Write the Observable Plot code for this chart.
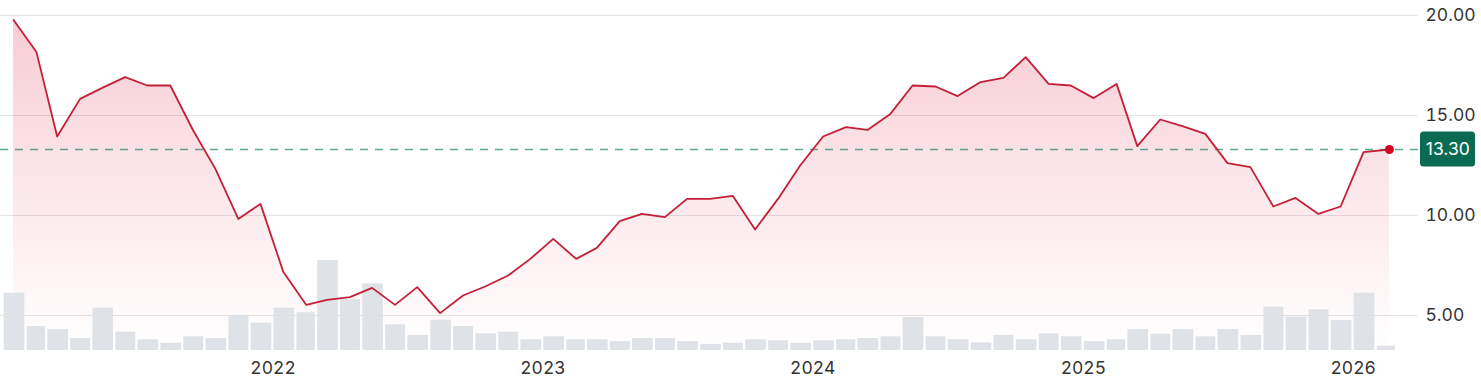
<!DOCTYPE html>
<html>
<head>
<meta charset="utf-8">
<script src="https://cdn.jsdelivr.net/npm/d3@7"></script>
<script src="https://cdn.jsdelivr.net/npm/@observablehq/plot@0.6"></script>
<style>
  html, body { margin: 0; padding: 0; background: #fff; }
  #chart svg { display: block; }
</style>
</head>
<body>
<div id="chart"></div>
<script>
// Monthly closing prices, Jan 2021 .. Feb 2026
const startMonth = "2021-01";
const prices = [
  19.78, 18.17, 13.95, 15.83, 16.38, 16.92, 16.5, 16.5, 14.25, 12.33,
  9.83, 10.58, 7.17, 5.53, 5.78, 5.92, 6.38, 5.53, 6.42, 5.12,
  6.0, 6.45, 7.0, 7.83, 8.83, 7.83, 8.38, 9.72, 10.08, 9.92,
  10.83, 10.83, 10.98, 9.3, 10.83, 12.5, 13.95, 14.42, 14.28, 15.08,
  16.5, 16.45, 15.97, 16.67, 16.88, 17.92, 16.58, 16.5, 15.87, 16.58,
  13.47, 14.8, 14.47, 14.08, 12.62, 12.42, 10.45, 10.88, 10.08, 10.45,
  13.17, 13.30
];
// Monthly volume (millions of shares)
const volumes = [
  9.55, 4.0, 3.5, 2.0, 7.05, 3.05, 1.78, 1.22, 2.28, 2.0,
  5.78, 4.55, 7.05, 6.28, 15.0, 8.5, 11.1, 4.28, 2.5, 5.05,
  4.0, 2.78, 3.05, 1.78, 2.28, 1.78, 1.78, 1.5, 2.0, 2.0,
  1.5, 1.0, 1.22, 1.78, 1.62, 1.22, 1.62, 1.78, 2.0, 2.28,
  5.5, 2.28, 1.78, 1.28, 2.5, 1.78, 2.78, 2.28, 1.5, 1.78,
  3.5, 2.72, 3.5, 2.28, 3.5, 2.5, 7.22, 5.55, 6.78, 5.0,
  9.55, 0.72
];
const lastDay = "2026-02-19";
const yTicks = [5, 10, 15, 20];
const yearTicks = ["2022", "2023", "2024", "2025", "2026"];
const lastPrice = 13.30;

const [sy, sm] = startMonth.split("-").map(Number);
const data = prices.map((p, i) => {
  const start = new Date(Date.UTC(sy, sm - 1 + i, 1));
  const end = new Date(Date.UTC(sy, sm + i, 1));
  const date = i === prices.length - 1 ? new Date(lastDay) : new Date(Date.UTC(sy, sm - 1 + i, 15));
  return {start, end, date, price: p, volume: volumes[i]};
});

const yMin = 3.25, yMax = 20;
const volMax = d3.max(volumes);
const volSpan = 4.5; // volume band height in price units
const volY = v => yMin + v / volMax * volSpan;

const W = 1481, H = 384;
const mL = 2.7, mR = 84.7, mT = 15, mB = 34;
const gridExtendRight = 21;

const plot = Plot.plot({
  width: W, height: H,
  marginLeft: mL, marginRight: mR, marginTop: mT, marginBottom: mB,
  x: {type: "utc", domain: [new Date("2021-01-01"), new Date("2026-03-01")], label: null},
  y: {domain: [yMin, yMax], label: null},
  style: {fontFamily: "Inter, 'Open Sans', sans-serif", fontSize: "17px", color: "#333", background: "#fff", overflow: "visible"},
  marks: [
    Plot.ruleY(yTicks, {stroke: "#e3e3e3", strokeWidth: 1.2, insetLeft: -mL, insetRight: -gridExtendRight}),
    Plot.areaY(data, {x: "date", y1: yMin, y2: "price", fill: "url(#priceGrad)"}),
    Plot.rectY(data, {x1: "start", x2: "end", y1: yMin, y2: d => volY(d.volume), fill: "#dcdfe3", fillOpacity: 0.9, insetLeft: 1, insetRight: 1.3}),
    Plot.ruleY([lastPrice], {stroke: "#1f8466", strokeOpacity: 0.7, strokeWidth: 1.5, strokeDasharray: "8,7", insetLeft: -mL, insetRight: -(gridExtendRight + 2)}),
    Plot.line(data, {x: "date", y: "price", stroke: "#c41f38", strokeWidth: 1.8}),
    Plot.dot([data[data.length - 1]], {x: "date", y: "price", r: 4.5, fill: "#d4061e", stroke: "none"}),
    Plot.axisX({ticks: yearTicks.map(y => new Date(y + "-01-01")), tickFormat: d3.utcFormat("%Y"), tickSize: 0, tickPadding: 11, fontSize: 17.5, fill: "#333", label: null}),
    Plot.axisY({anchor: "right", ticks: yTicks, tickFormat: d3.format(".2f"), tickSize: 0, tickPadding: 28.7, fontSize: 17.5, fill: "#333", label: null}),
    Plot.text([lastPrice], {y: d => d, frameAnchor: "right", dx: 51, text: d => d.toFixed(2), fill: "#fff", fontSize: 17.5, textAnchor: "middle", className: "price-label"})
  ]
});

// gradient definition for area and background for the price label
const svg = d3.select(plot);
const ys = plot.scale("y");
const y0 = ys.apply(yMax), y1 = ys.apply(yMin);
const defs = svg.insert("defs", ":first-child");
const g = defs.append("linearGradient").attr("id", "priceGrad")
  .attr("gradientUnits", "userSpaceOnUse").attr("x1", 0).attr("x2", 0).attr("y1", y0).attr("y2", y1);
g.append("stop").attr("offset", "0%").attr("stop-color", "#e0304a").attr("stop-opacity", 0.25);
g.append("stop").attr("offset", "45%").attr("stop-color", "#e0304a").attr("stop-opacity", 0.13);
g.append("stop").attr("offset", "100%").attr("stop-color", "#e0304a").attr("stop-opacity", 0.0);

const labelG = svg.select(".price-label").node() ? svg.select(".price-label") : null;
const xRight = W - mR;
const yl = ys.apply(lastPrice);
const rectNode = document.createElementNS("http://www.w3.org/2000/svg", "rect");
d3.select(rectNode).attr("x", xRight + 23.7).attr("y", yl - 17.5).attr("width", 55).attr("height", 35)
  .attr("rx", 3.5).attr("fill", "#0b6b52");
const textGroups = plot.querySelectorAll("g[aria-label='text']");
const lastText = labelG ? labelG.node() : textGroups[textGroups.length - 1];
lastText.parentNode.insertBefore(rectNode, lastText);

document.getElementById("chart").appendChild(plot);
</script>
</body>
</html>
